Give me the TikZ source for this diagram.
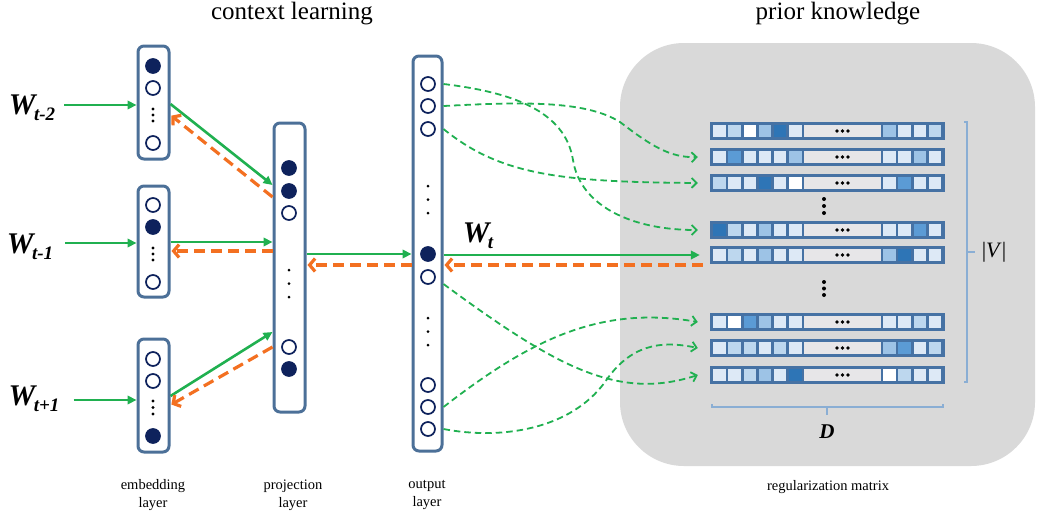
\documentclass[tikz,border=0pt]{standalone}
\usepackage{fontspec}
\setmainfont{Liberation Serif}
\usetikzlibrary{arrows.meta}

\definecolor{navy}{RGB}{14,34,92}
\definecolor{boxc}{RGB}{76,112,152}
\definecolor{framec}{RGB}{70,114,164}
\definecolor{panel}{RGB}{217,217,217}
\definecolor{gr}{RGB}{32,176,80}
\definecolor{og}{RGB}{243,112,33}
\definecolor{brk}{RGB}{138,174,212}
\definecolor{c0}{RGB}{255,255,255}
\definecolor{c1}{RGB}{221,233,246}
\definecolor{c2}{RGB}{189,215,238}
\definecolor{c3}{RGB}{157,195,230}
\definecolor{c4}{RGB}{91,155,213}
\definecolor{c5}{RGB}{46,117,182}
\definecolor{gcell}{RGB}{231,230,232}

% word label W with a lowered subscript
\newcommand\Wlab[1]{{\fontsize{30}{30}\selectfont\bfseries\itshape W\kern-1.5pt\raisebox{-6pt}{\fontsize{19}{19}\selectfont #1}}}

\begin{document}
\begin{tikzpicture}[x=1pt,y=-1pt,
  layerbox/.style={draw=boxc, line width=3pt, rounded corners=6pt, fill=white, minimum width=31pt, inner sep=0pt},
  oc/.style={circle, draw=navy, line width=1.7pt, fill=white, minimum size=14pt, inner sep=0pt},
  fc/.style={oc, fill=navy},
  rowframe/.style={fill=framec, minimum width=235pt, minimum height=18pt, inner sep=0pt},
  garrow/.style={draw=gr, line width=2.6pt, -{Triangle[length=9pt,width=8.5pt]}},
  oarrow/.style={draw=og, line width=3.2pt, dash pattern=on 11pt off 6pt, -{Straight Barb[length=5.5pt,width=13pt]}},
  gdash/.style={draw=gr, line width=1.8pt, dash pattern=on 6.5pt off 4pt, -{Straight Barb[length=5pt,width=10pt]}},
  title/.style={font=\fontsize{25}{25}\selectfont},
  lab/.style={font=\fontsize{14.5}{18}\selectfont, align=center},
  wlab/.style={inner sep=0pt},
  brack/.style={draw=brk, line width=1.3pt}]
\useasboundingbox (0,0) rectangle (1038,515);

% background panel for the prior knowledge part
\fill[panel, rounded corners=64pt] (620,43) rectangle (1035,466);

% titles
\node[title] (t1) at (292,14) {context learning};
\node[title] (t2) at (838,14) {prior knowledge};

% layer boxes
\node[layerbox, minimum height=113pt] (emb1) at (153.5,102.5) {};
\node[layerbox, minimum height=111pt] (emb2) at (153.5,241.5) {};
\node[layerbox, minimum height=113pt] (emb3) at (153.5,395.5) {};
\node[layerbox, minimum height=289pt] (proj) at (289.5,267.5) {};
\node[layerbox, minimum width=29pt, minimum height=395pt] (out) at (427.5,253.5) {};

% units of the embedding layers
\foreach \nm/\yy/\st in {e1a/66/fc, e1b/88/oc, e1c/143/oc,
                         e2a/205/oc, e2b/227/fc, e2c/282/oc,
                         e3a/359/oc, e3b/381/oc, e3c/436/fc}
  \node[\st] (\nm) at (153,\yy) {};
\foreach \yy in {109,115,121, 248,254,260, 401,407.5,414}
  \fill (153,\yy) circle (1.6pt);

% units of the projection layer
\foreach \nm/\yy/\st in {p1/168/fc, p2/191/fc, p3/213/oc, p4/347/oc, p5/369/fc}
  \node[\st] (\nm) at (289,\yy) {};
\foreach \yy in {270,283.5,297}
  \fill (289,\yy) circle (1.5pt);

% units of the output layer
\foreach \nm/\yy/\st in {o1/84/oc, o2/106/oc, o3/129/oc, ow/254/fc,
                         o4/277/oc, o5/385/oc, o6/407/oc, o7/429/oc}
  \node[\st] (\nm) at (428,\yy) {};
\foreach \yy in {186,199.5,213, 318,331.5,345}
  \fill (428,\yy) circle (1.5pt);

% rows of the regularization matrix
\foreach \nm/\yy/\lc/\rc in {
   r1/131/{1,2,0,3,5,1}/{3,1,1,2},
   r2/157/{1,4,1,1,1,3}/{1,1,3,1},
   r3/183/{2,1,1,5,1,0}/{1,4,1,1},
   r4/230/{5,2,1,3,1,1}/{1,1,4,1},
   r5/255/{1,2,1,3,1,1}/{3,5,1,1},
   r6/322/{1,0,4,3,1,1}/{1,1,2,1},
   r7/348/{1,2,2,1,2,1}/{3,4,1,2},
   r8/375/{1,1,2,3,1,5}/{0,2,1,1}}{
  \node[rowframe] (\nm) at (827.5,\yy) {};
  \begin{scope}[shift={(\nm.west)}]
    \foreach \k [count=\i from 0] in \lc
      \fill[fill=c\k] (3.3+15.2*\i,-6) rectangle ++(12.5,12);
    \fill[gcell] (94.5,-6) rectangle (171,6);
    \foreach \dx in {127.2,132.7,138.2}
      \fill (\dx,0) circle (1.8pt);
    \foreach \k [count=\i from 0] in \rc
      \fill[fill=c\k] (173.5+15.1*\i,-6) rectangle ++(12.5,12);
  \end{scope}
}
% vertical ellipses between the rows
\foreach \yy in {199,206,213, 282,288.5,295}
  \fill (824,\yy) circle (2pt);

% brackets with |V| and D
\draw[brack] (964,122) -- (967,122) -- (967,382) -- (964,382);
\draw[brack] (967,252) -- (975,252);
\node[font=\fontsize{22}{22}\selectfont] (vlab) at (994,252) {|\textit{V}|};
\draw[brack] (712,404) -- (712,407) -- (943,407) -- (943,404);
\draw[brack] (827,407) -- (827,415);
\node[font=\fontsize{21}{21}\selectfont\bfseries\itshape] (dlab) at (827,432) {D};

% layer captions
\node[lab] (l1) at (153,495) {embedding\\layer};
\node[lab] (l2) at (293,495) {projection\\layer};
\node[lab] (l3) at (427,495) {output\\layer};
\node[lab] (l4) at (828,487) {regularization matrix};

% input words
\node[wlab] (wm2) at (32,108) {\Wlab{t-2}};
\node[wlab] (wm1) at (30,247) {\Wlab{t-1}};
\node[wlab] (wp1) at (34,399) {\Wlab{t+1}};
\node[wlab] (wt) at (478,236) {\Wlab{t}};

\draw[garrow, shorten <=9pt] (wm2.east |- 0,105) -- (emb1.west |- 0,105);
\draw[garrow, shorten <=12pt] (wm1.east |- 0,243) -- (emb2.west |- 0,243);
\draw[garrow, shorten <=14pt] (wp1.east |- 0,400) -- (emb3.west |- 0,400);

% embedding <-> projection
\draw[garrow] (emb1.east |- 0,104) -- (proj.west |- 0,185);
\draw[oarrow, shorten >=1pt] (proj.west |- 0,197) -- (emb1.east |- 0,115);
\draw[garrow] (emb2.east |- 0,242) -- (proj.west |- 0,242);
\draw[oarrow, shorten >=1pt] (proj.west |- 0,251) -- (emb2.east |- 0,251);
\draw[garrow] (emb3.east |- 0,396) -- (proj.west |- 0,332);
\draw[oarrow, shorten >=1pt] (proj.west |- 0,347) -- (emb3.east |- 0,405);

% projection <-> output
\draw[garrow] (proj.east |- ow) -- (out.west |- ow);
\draw[oarrow, shorten >=1pt] (out.west |- 0,265) -- (proj.east |- 0,265);

% output <-> regularization matrix
\draw[garrow, shorten >=10pt] (out.east |- r5) -- (r5.west);
\draw[oarrow, shorten <=7pt, shorten >=1pt] (r5.west |- 0,265) -- (out.east |- 0,265);

% other output units mapped to rows
\draw[gdash] (out.east |- o1) .. controls (510,92) and (565,110) .. (573,160)
  .. controls (580,205) and (630,230) .. ([xshift=-12pt]r4.west);
\draw[gdash] (out.east |- o2) .. controls (520,102) and (585,100) .. (620,122)
  .. controls (650,145) and (670,158) .. ([xshift=-12pt]r2.west);
\draw[gdash] (out.east |- o3) .. controls (500,175) and (560,182) .. ([xshift=-12pt]r3.west);
\draw[gdash] (out.east |- 0,284) .. controls (560,370) and (620,400) .. ([xshift=-12pt]r8.west);
\draw[gdash] (out.east |- o6) .. controls (530,340) and (600,305) .. ([xshift=-12pt]r6.west);
\draw[gdash] (out.east |- o7) .. controls (500,440) and (570,430) .. (605,382)
  .. controls (630,345) and (660,340) .. ([xshift=-12pt]r7.west);
\end{tikzpicture}
\end{document}
